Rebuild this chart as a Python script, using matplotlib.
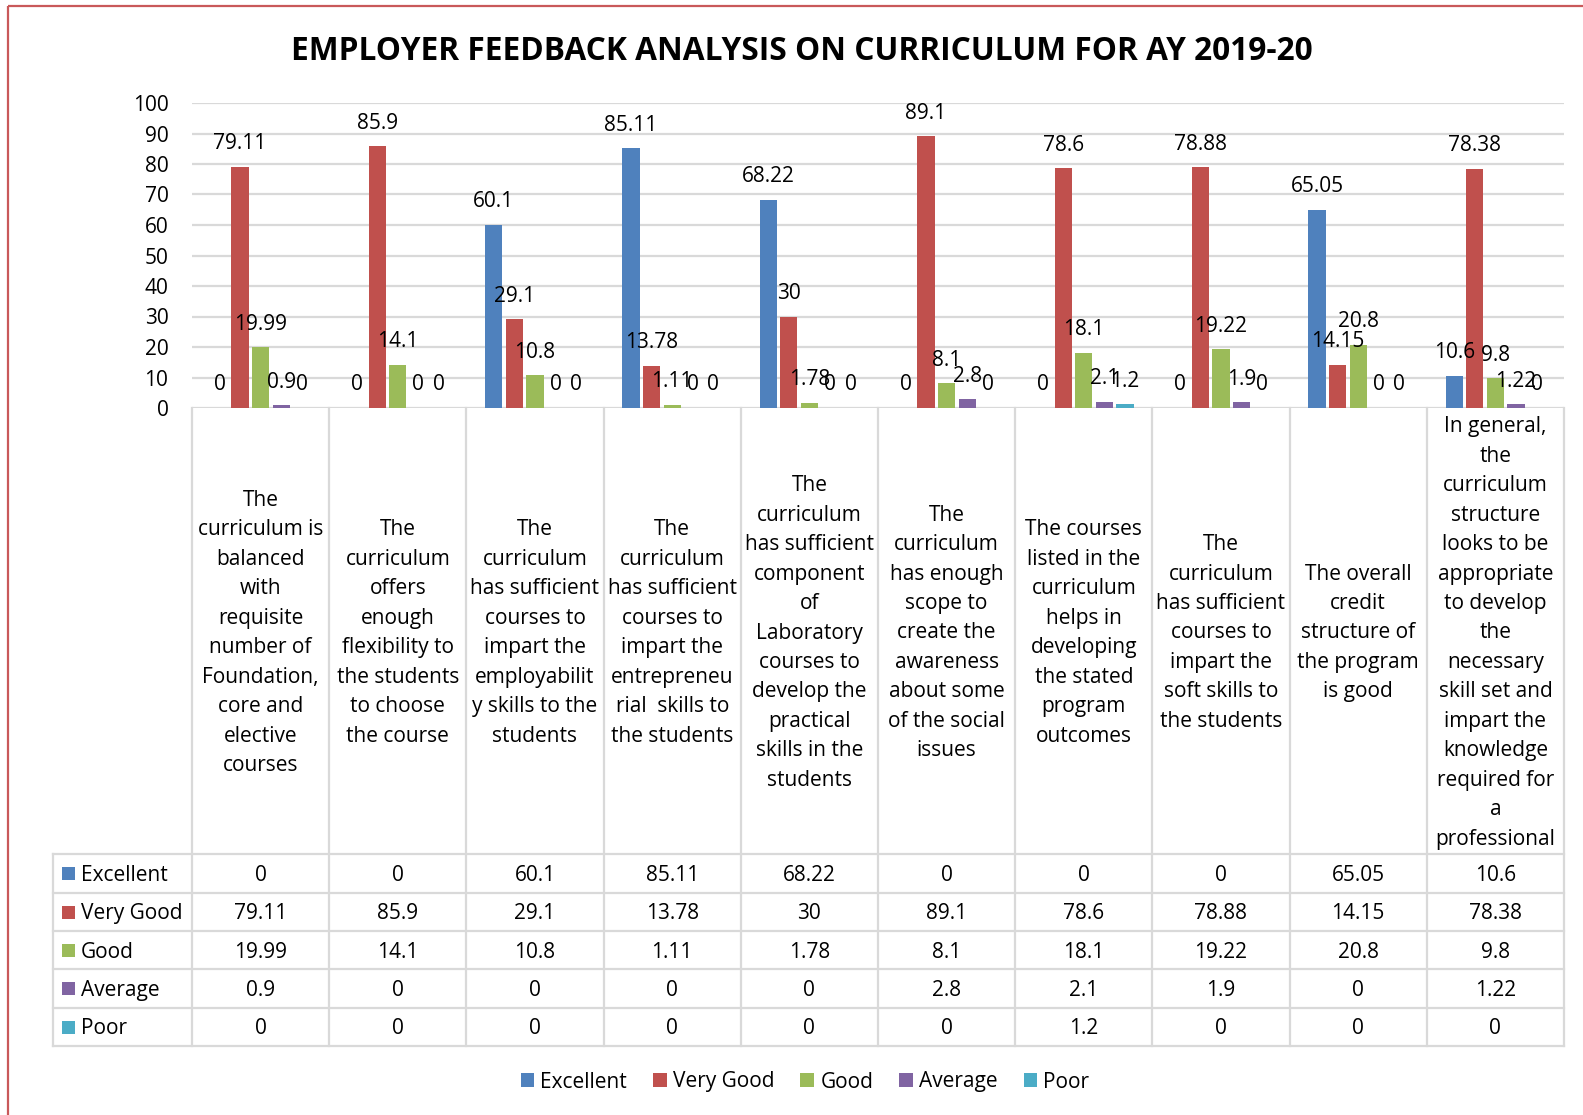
import matplotlib
matplotlib.use('Agg')
import matplotlib.pyplot as plt
from matplotlib import font_manager
from matplotlib.patches import Rectangle, Patch
import numpy as np

# ---------------- data ----------------
categories = [
    "The\ncurriculum is\nbalanced\nwith\nrequisite\nnumber of\nFoundation,\ncore and\nelective\ncourses",
    "The\ncurriculum\noffers\nenough\nflexibility to\nthe students\nto choose\nthe course",
    "The\ncurriculum\nhas sufficient\ncourses to\nimpart the\nemployabilit\ny skills to the\nstudents",
    "The\ncurriculum\nhas sufficient\ncourses to\nimpart the\nentrepreneu\nrial  skills to\nthe students",
    "The\ncurriculum\nhas sufficient\ncomponent\nof\nLaboratory\ncourses to\ndevelop the\npractical\nskills in the\nstudents",
    "The\ncurriculum\nhas enough\nscope to\ncreate the\nawareness\nabout some\nof the social\nissues",
    "The courses\nlisted in the\ncurriculum\nhelps in\ndeveloping\nthe stated\nprogram\noutcomes",
    "The\ncurriculum\nhas sufficient\ncourses to\nimpart the\nsoft skills to\nthe students",
    "The overall\ncredit\nstructure of\nthe program\nis good",
    "In general,\nthe\ncurriculum\nstructure\nlooks to be\nappropriate\nto develop\nthe\nnecessary\nskill set and\nimpart the\nknowledge\nrequired for\na\nprofessional",
]
series_names = ["Excellent", "Very Good", "Good", "Average", "Poor"]
excellent = [0, 0, 60.1, 85.11, 68.22, 0, 0, 0, 65.05, 10.6]
very_good = [79.11, 85.9, 29.1, 13.78, 30, 89.1, 78.6, 78.88, 14.15, 78.38]
good = [19.99, 14.1, 10.8, 1.11, 1.78, 8.1, 18.1, 19.22, 20.8, 9.8]
average = [0.9, 0, 0, 0, 0, 2.8, 2.1, 1.9, 0, 1.22]
poor = [0, 0, 0, 0, 0, 0, 1.2, 0, 0, 0]
y_ticks = [0, 10, 20, 30, 40, 50, 60, 70, 80, 90, 100]
title = "EMPLOYER FEEDBACK ANALYSIS ON CURRICULUM FOR AY 2019-20"

# ---------------- style ----------------
colors = ["#4F81BD", "#C0504D", "#9BBB59", "#8064A2", "#4BACC6"]
grid_c = "#D9D9D9"
border_c = "#C9595A"

available = {f.name for f in font_manager.fontManager.ttflist}
FONT, FS, TFS, LS = "Open Sans", 15, 22.8, 1.53
if "Liberation Sans Narrow" in available:
    FONT, FS, TFS, LS = "Liberation Sans Narrow", 16.5, 26, 1.45
plt.rcParams["font.family"] = [FONT, "DejaVu Sans"]

W, H = 1583, 1115
fig = plt.figure(figsize=(W / 100, H / 100), dpi=100)

# overlay axes in pixel coordinates (for table / frame / title)
ov = fig.add_axes([0, 0, 1, 1], zorder=0)
ov.set_xlim(0, W)
ov.set_ylim(H, 0)
ov.axis("off")

x_left, x_right = 192, 1564
y_top, y_base = 103, 408
ax = fig.add_axes([x_left / W, 1 - y_base / H, (x_right - x_left) / W, (y_base - y_top) / H], zorder=2)
ax.patch.set_alpha(0)

series = [excellent, very_good, good, average, poor]
n = len(categories)
idx = np.arange(n)
slot, bw = 0.15, 0.125
for s, (vals, col) in enumerate(zip(series, colors)):
    xs = idx + (s - 2) * slot
    ax.bar(xs, vals, width=bw, color=col, zorder=3)
    for x, v in zip(xs, vals):
        ax.annotate(f"{v:g}", (x, v), xytext=(0, 9), textcoords="offset points",
                    ha="center", va="bottom", fontsize=FS, color="black", zorder=4,
                    annotation_clip=False)

ax.set_xlim(-0.5, n - 0.5)
ax.set_ylim(0, 100)
ax.set_yticks(y_ticks)
ax.set_xticks([])
ax.tick_params(axis="y", length=0, pad=17, labelsize=FS, colors="black")
for sp in ax.spines.values():
    sp.set_visible(False)
ax.set_axisbelow(True)
ax.yaxis.grid(True, color=grid_c, lw=1.6)

# ---------------- table ----------------
col_edges = np.linspace(x_left, x_right, n + 1)
col_centers = (col_edges[:-1] + col_edges[1:]) / 2
row_edges = [854, 892.5, 931, 969.2, 1007.6, 1046]
tbl_left = 53
lw = 1.6
for xe in col_edges:
    ov.plot([xe, xe], [y_base, row_edges[-1]], color=grid_c, lw=lw)
ov.plot([tbl_left, tbl_left], [row_edges[0], row_edges[-1]], color=grid_c, lw=lw)
for ye in row_edges:
    ov.plot([tbl_left, x_right], [ye, ye], color=grid_c, lw=lw)

lab_center = (y_base + row_edges[0]) / 2
for cx, cat in zip(col_centers, categories):
    ov.text(cx, lab_center + 2, cat, ha="center", va="center", fontsize=FS, linespacing=LS)

for r, (name, vals, col) in enumerate(zip(series_names, series, colors)):
    cy = (row_edges[r] + row_edges[r + 1]) / 2 + 2
    ov.add_patch(Rectangle((62.5, cy - 8), 13, 13, color=col, lw=0))
    ov.text(81, cy, name, ha="left", va="center", fontsize=FS)
    for cx, v in zip(col_centers, vals):
        ov.text(cx, cy, f"{v:g}", ha="center", va="center", fontsize=FS)

# ---------------- title, frame, legend ----------------
ov.text(802, 52, title, ha="center", va="center", fontsize=TFS, fontweight="bold")
ov.plot([8, 8], [5.5, H + 5], color=border_c, lw=1.6, solid_capstyle="butt")
ov.plot([8, W + 5], [5.5, 5.5], color=border_c, lw=1.6, solid_capstyle="butt")

handles = [Patch(facecolor=c, edgecolor="none", label=nm) for nm, c in zip(series_names, colors)]
fig.legend(handles=handles, loc="center", bbox_to_anchor=(805 / W, 1 - 1082 / H), ncol=5,
           frameon=False, fontsize=FS, handlelength=0.65, handleheight=0.65,
           handletextpad=0.3, columnspacing=1.25)

fig.savefig("out.png", dpi=100)
